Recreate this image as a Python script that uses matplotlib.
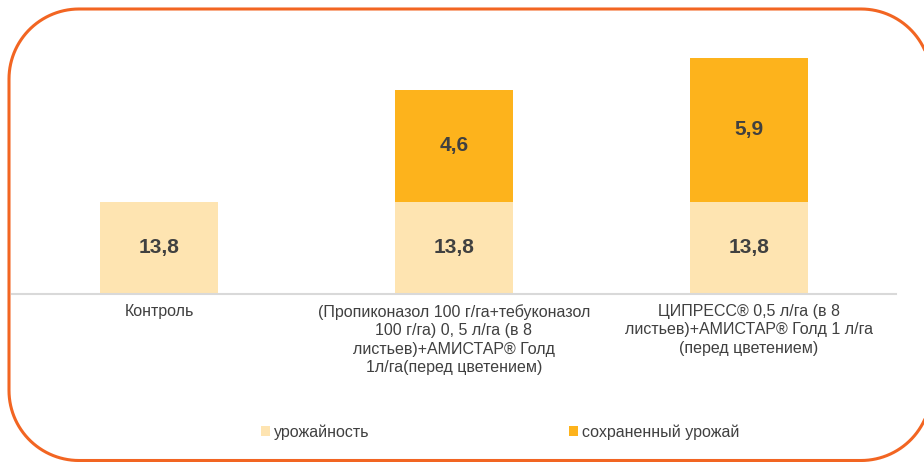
import matplotlib
matplotlib.use("Agg")
import numpy as np
import matplotlib.pyplot as plt
from matplotlib.path import Path
from matplotlib.patches import PathPatch

plt.rcParams['font.family'] = ['Liberation Sans', 'DejaVu Sans']

# данные
categories = ['Контроль',
              '(Пропиконазол 100 г/га+тебуконазол\n100 г/га) 0, 5 л/га (в 8\nлистьев)+АМИСТАР® Голд\n1л/га(перед цветением)',
              'ЦИПРЕСС® 0,5 л/га (в 8\nлистьев)+АМИСТАР® Голд 1 л/га\n(перед цветением)']
yield_base = [13.8, 13.8, 13.8]
yield_saved = [0, 4.6, 5.9]
series_names = ['урожайность', 'сохраненный урожай']

c_base = '#FEE4B1'
c_saved = '#FDB31C'
txt = '#404040'

fig = plt.figure(figsize=(9.24, 4.62), dpi=100)
ax = fig.add_axes([12/924, 1 - 294/462, 884/924, 243/462])

x = range(len(categories))
b1 = ax.bar(x, yield_base, width=0.4, color=c_base, label=series_names[0])
b2 = ax.bar(x, yield_saved, width=0.4, bottom=yield_base, color=c_saved,
            label=series_names[1])

ax.set_ylim(10, 20)
ax.set_xlim(-0.5, 2.5)

# подписи значений
for i in x:
    ax.text(i, (10 + yield_base[i]) / 2, f'{yield_base[i]:.1f}'.replace('.', ','),
            ha='center', va='center', fontsize=15, fontweight='bold', color=txt)
    if yield_saved[i] > 0:
        ax.text(i, yield_base[i] + yield_saved[i] / 2,
                f'{yield_saved[i]:.1f}'.replace('.', ','),
                ha='center', va='center', fontsize=15, fontweight='bold', color=txt)

ax.set_xticks(list(x))
ax.set_xticklabels(categories, fontsize=11.5, color=txt, linespacing=1.3,
                   va='top')
ax.tick_params(axis='x', length=0, pad=7)
ax.set_yticks([])
for s in ['top', 'right', 'left']:
    ax.spines[s].set_visible(False)
ax.spines['bottom'].set_color('#D9D9D9')
ax.spines['bottom'].set_linewidth(1.5)

fig.legend(handles=[b1, b2], labels=series_names, loc='center', ncol=2,
           bbox_to_anchor=(500/924, 30/462), frameon=False, fontsize=11.5,
           handlelength=0.55, handleheight=0.55, handletextpad=0.25,
           columnspacing=12.5, labelcolor=txt)

# рамка: скруглённый прямоугольник, правый край за пределами картинки
x0, x1, y0, y1, r = 9, 931, 1.5, 453, 70
def arc(cx, cy, a0, a1):
    t = np.radians(np.linspace(a0, a1, 30))
    return np.column_stack([cx + r * np.cos(t), cy + r * np.sin(t)])
pts = np.vstack([arc(x1 - r, y1 - r, 0, 90),
                 arc(x0 + r, y1 - r, 90, 180),
                 arc(x0 + r, y0 + r, 180, 270),
                 arc(x1 - r, y0 + r, 270, 360)])
frame = PathPatch(Path(pts), transform=None, fill=False,
                  edgecolor='#F26522', linewidth=2.2)
fig.patches.append(frame)

fig.savefig('out.png', dpi=100)
